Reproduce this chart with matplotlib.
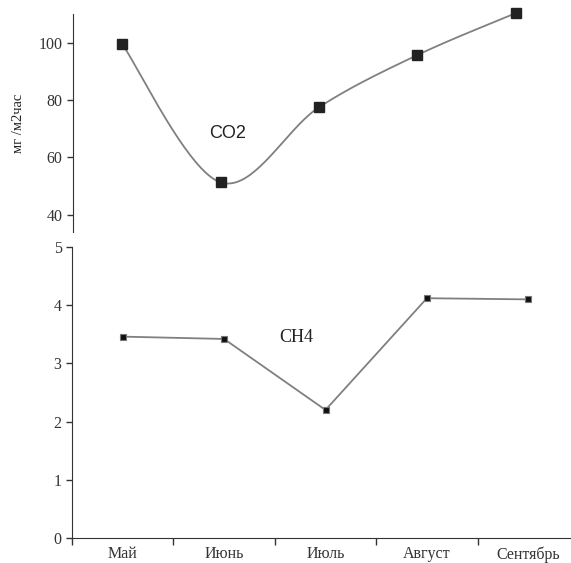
import numpy as np
import matplotlib.pyplot as plt

months = ["Май", "Июнь", "Июль", "Август", "Сентябрь"]
co2 = [99.5, 51.3, 77.5, 95.7, 110.3]
ch4 = [3.46, 3.42, 2.20, 4.12, 4.10]


def smooth(x, y, n=40):
    """Catmull-Rom style smoothing like Excel's smoothed line"""
    x = np.asarray(x, float)
    y = np.asarray(y, float)
    px = np.concatenate([[x[0]], x, [x[-1]]])
    py = np.concatenate([[y[0]], y, [y[-1]]])
    xs, ys = [], []
    for i in range(1, len(px) - 2):
        p0 = np.array([px[i - 1], py[i - 1]])
        p1 = np.array([px[i], py[i]])
        p2 = np.array([px[i + 1], py[i + 1]])
        p3 = np.array([px[i + 2], py[i + 2]])
        c1 = p1 + (p2 - p0) / 6
        c2 = p2 - (p3 - p1) / 6
        t = np.linspace(0, 1, n)[:, None]
        b = ((1 - t) ** 3) * p1 + 3 * ((1 - t) ** 2) * t * c1 + 3 * (1 - t) * t ** 2 * c2 + t ** 3 * p2
        xs.extend(b[:, 0])
        ys.extend(b[:, 1])
    return np.array(xs), np.array(ys)


plt.rcParams['font.family'] = ['Liberation Serif', 'DejaVu Serif']
tick_col = '#333333'

fig = plt.figure(figsize=(5.71, 5.63), dpi=100)
ax1 = fig.add_axes([73 / 571, 1 - 232 / 563, (565 - 73) / 571, (232 - 14) / 563])
ax2 = fig.add_axes([72 / 571, 1 - 538 / 563, (579 - 72) / 571, (538 - 247) / 563])

x = np.arange(len(months))

# CO2 panel
sx, sy = smooth(x, co2)
ax1.plot(sx, sy, color='#808080', lw=1.3, clip_on=False)
ax1.plot(x, co2, 's', color='#222222', ms=7, clip_on=False, zorder=3)
ax1.set_xlim(-0.5, 4.5)
ax1.set_ylim(34, 110)
ax1.set_yticks([40, 60, 80, 100])
for s in ['top', 'right', 'bottom']:
    ax1.spines[s].set_visible(False)
ax1.spines['left'].set_color('#333333')
ax1.set_xticks([])
ax1.tick_params(axis='y', labelsize=11.5, colors=tick_col, length=4, width=1)
ax1.set_ylabel("мг /м2час", fontsize=10.5, color='#222222', labelpad=10)
ax1.text(1.07, 68.3, "CO2", fontsize=13, family=['Liberation Sans', 'DejaVu Sans'],
         color='#222222', ha='center', va='center')

# CH4 panel
ax2.plot(x, ch4, color='#808080', lw=1.3, marker='s', ms=4.5,
         mfc='#111111', mec='#777777', mew=0.8)
ax2.set_xlim(-0.5, 4.5)
ax2.set_ylim(0, 5)
ax2.set_yticks(range(6))
ax2.set_xticks(np.arange(-0.5, 4.5, 1))
ax2.set_xticks(x, minor=True)
ax2.set_xticklabels([])
ax2.set_xticklabels(months, minor=True)
ax2.tick_params(axis='x', which='major', direction='out', length=5, width=1, colors=tick_col)
ax2.tick_params(axis='x', which='minor', length=0, labelsize=11.5, colors=tick_col, pad=6)
ax2.tick_params(axis='y', labelsize=11.5, colors=tick_col, length=4, width=1)
for s in ['top', 'right']:
    ax2.spines[s].set_visible(False)
ax2.spines['left'].set_color('#333333')
ax2.spines['bottom'].set_color('#333333')
ax2.text(1.71, 3.45, "CH4", fontsize=13, color='#222222', ha='center', va='center')

fig.savefig("out.png", dpi=100)
